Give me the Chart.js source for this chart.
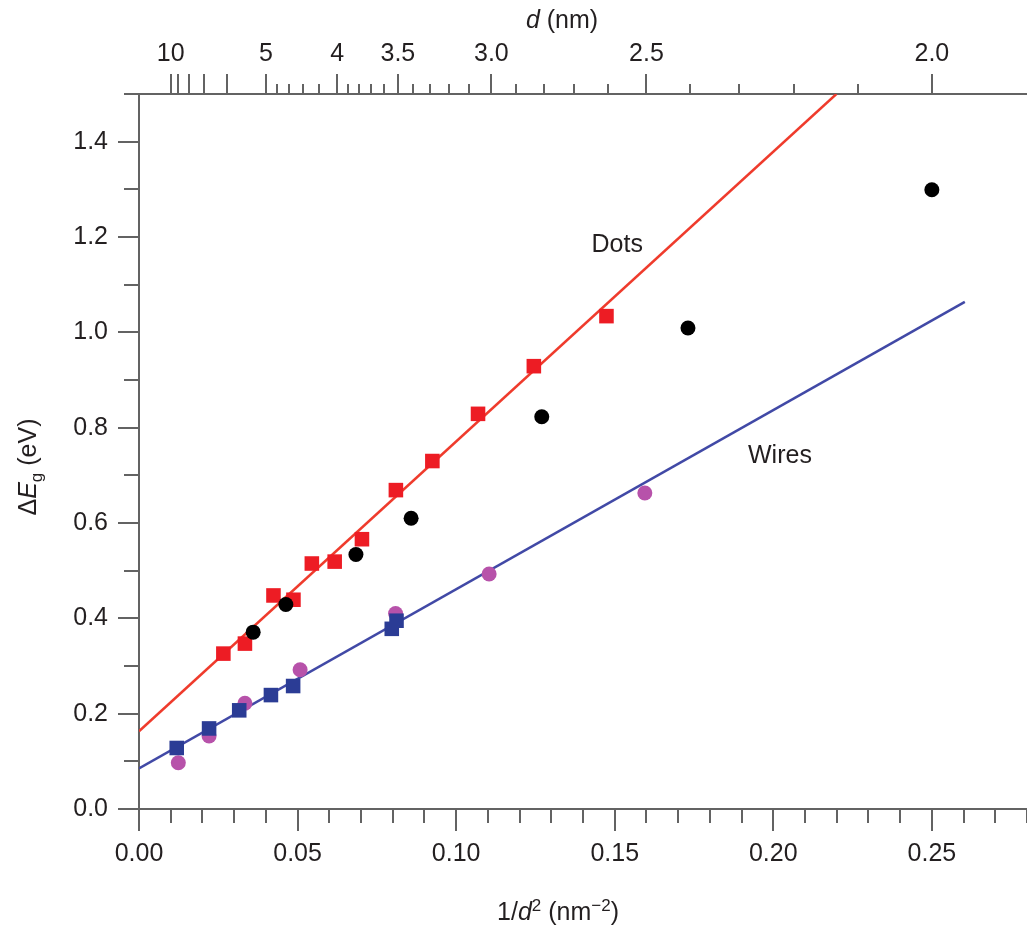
<!DOCTYPE html>
<html>
<head>
<meta charset="utf-8">
<script src="https://cdn.jsdelivr.net/npm/chart.js@4.4.1/dist/chart.umd.min.js"></script>
<style>
  html, body { margin: 0; padding: 0; background: #fff; }
  #wrap { width: 1027px; height: 929px; }
</style>
</head>
<body>
<div id="wrap"><canvas id="gapChart" width="1027" height="929"></canvas></div>
<script>
// measured values: 1/d^2 (nm^-2) vs band gap shift (eV)
const dotsSqX = [0.0266, 0.0334, 0.0424, 0.0487, 0.0545, 0.0617, 0.0703, 0.0810, 0.0925, 0.1069, 0.1245, 0.1474];
const dotsSqY = [0.326, 0.347, 0.448, 0.439, 0.515, 0.519, 0.566, 0.669, 0.730, 0.829, 0.929, 1.034];
const dotsCircX = [0.0360, 0.0463, 0.0684, 0.0858, 0.1270, 0.1731, 0.2500];
const dotsCircY = [0.371, 0.429, 0.534, 0.610, 0.823, 1.009, 1.299];
const wiresSqX = [0.0119, 0.0221, 0.0316, 0.0416, 0.0486, 0.0797, 0.0812];
const wiresSqY = [0.128, 0.169, 0.207, 0.239, 0.258, 0.378, 0.395];
const wiresCircX = [0.0124, 0.0221, 0.0334, 0.0508, 0.0809, 0.1104, 0.1595];
const wiresCircY = [0.097, 0.153, 0.222, 0.292, 0.410, 0.493, 0.663];

// fitted lines (end points)
const dotsFitX = [0, 0.2199];
const dotsFitY = [0.163, 1.5];
const wiresFitX = [0, 0.2604];
const wiresFitY = [0.085, 1.064];

// top axis: diameter d (nm)
const dLabeled = [10, 5, 4, 3.5, 3.0, 2.5, 2.0];
const dLabels = ['10', '5', '4', '3.5', '3.0', '2.5', '2.0'];
const dLongTicks = [10, 9, 8, 7, 6, 5, 4, 3.5, 3.0, 2.5, 2.0];
const dShortTicks = [4.8, 4.6, 4.4, 4.2, 3.9, 3.8, 3.7, 3.6, 3.4, 3.3, 3.2, 3.1,
                     2.9, 2.8, 2.7, 2.6, 2.4, 2.3, 2.2, 2.1];

const curveLabels = ['Dots', 'Wires'];
const curveLabelX = [0.1508, 0.2021];
const curveLabelY = [1.182, 0.741];

const FONT = "'Liberation Sans', Arial, sans-serif";
const TEXT = '#231f20';
const AXIS = '#636363';
const FS = 25;

function pts(xs, ys) {
    return xs.map((x, i) => ({ x: x, y: ys[i] }));
}

function drawRich(ctx, runs, cx, baseY, size, angle) {
    ctx.save();
    ctx.translate(cx, baseY);
    if (angle) ctx.rotate(angle);
    const parts = runs.map(r => {
        const s = (r.sup || r.sub) ? Math.round(size * 0.68) : size;
        const f = (r.it ? 'italic ' : '') + s + 'px ' + FONT;
        ctx.font = f;
        return { t: r.t, f: f, w: ctx.measureText(r.t).width, dy: r.sup ? -size * 0.36 : (r.sub ? size * 0.22 : 0) };
    });
    const total = parts.reduce((a, p) => a + p.w, 0);
    let x = -total / 2;
    ctx.textAlign = 'left';
    ctx.textBaseline = 'alphabetic';
    ctx.fillStyle = TEXT;
    parts.forEach(p => {
        ctx.font = p.f;
        ctx.fillText(p.t, x, p.dy);
        x += p.w;
    });
    ctx.restore();
}

// no extra edge padding, the plot runs to the right border of the canvas
function noPadH(s, h) { s.height = h; s.paddingLeft = 0; s.paddingRight = 0; }

// tick marks of different lengths + axis titles + curve names
const extrasPlugin = {
    id: 'extras',
    afterDraw(chart) {
        const ctx = chart.ctx;
        const xs = chart.scales.x, ys = chart.scales.y, x2 = chart.scales.x2;
        const area = chart.chartArea;
        ctx.save();
        ctx.strokeStyle = AXIS;
        ctx.lineWidth = 2;
        ctx.beginPath();
        xs.ticks.forEach(t => {
            const px = Math.round(xs.getPixelForValue(t.value));
            const major = Math.round(t.value * 100) % 5 === 0;
            ctx.moveTo(px, area.bottom);
            ctx.lineTo(px, area.bottom + (major ? 22 : 14));
        });
        ys.ticks.forEach(t => {
            const py = Math.round(ys.getPixelForValue(t.value));
            const major = Math.round(t.value * 10) % 2 === 0;
            ctx.moveTo(area.left, py);
            ctx.lineTo(area.left - (major ? 21 : 15), py);
        });
        dLongTicks.forEach(d => {
            const px = Math.round(x2.getPixelForValue(1 / (d * d)));
            ctx.moveTo(px, area.top);
            ctx.lineTo(px, area.top - 20);
        });
        dShortTicks.forEach(d => {
            const px = Math.round(x2.getPixelForValue(1 / (d * d)));
            ctx.moveTo(px, area.top);
            ctx.lineTo(px, area.top - 10);
        });
        ctx.stroke();
        ctx.restore();

        drawRich(ctx, [{ t: '1/' }, { t: 'd', it: true }, { t: '2', sup: true }, { t: ' (nm' }, { t: '\u22122', sup: true }, { t: ')' }], 558, 920, FS);
        drawRich(ctx, [{ t: 'd', it: true }, { t: ' (nm)' }], 562, 28, FS);
        drawRich(ctx, [{ t: '\u0394' }, { t: 'E', it: true }, { t: 'g', sub: true }, { t: ' (eV)' }], 36, 467, FS, -Math.PI / 2);

        ctx.save();
        ctx.font = FS + 'px ' + FONT;
        ctx.fillStyle = TEXT;
        ctx.textAlign = 'center';
        ctx.textBaseline = 'middle';
        curveLabels.forEach((lab, i) => {
            ctx.fillText(lab, xs.getPixelForValue(curveLabelX[i]), ys.getPixelForValue(curveLabelY[i]));
        });
        ctx.restore();
    }
};

document.addEventListener('DOMContentLoaded', function() {
    Chart.defaults.font.family = FONT;
    Chart.defaults.color = TEXT;

    const ctx = document.getElementById('gapChart').getContext('2d');
    new Chart(ctx, {
        type: 'scatter',
        data: {
            datasets: [
                {
                    label: 'Dots (circles)',
                    data: pts(dotsCircX, dotsCircY),
                    pointStyle: 'circle',
                    pointRadius: 7.5,
                    backgroundColor: '#000000',
                    borderColor: '#000000',
                    pointBorderWidth: 0
                },
                {
                    label: 'Dots (squares)',
                    data: pts(dotsSqX, dotsSqY),
                    pointStyle: 'rect',
                    pointRadius: 10.3,
                    backgroundColor: '#ed1c24',
                    borderColor: '#ed1c24',
                    pointBorderWidth: 0
                },
                {
                    label: 'Wires (squares)',
                    data: pts(wiresSqX, wiresSqY),
                    pointStyle: 'rect',
                    pointRadius: 10.3,
                    backgroundColor: '#2b3c95',
                    borderColor: '#2b3c95',
                    pointBorderWidth: 0
                },
                {
                    label: 'Wires (circles)',
                    data: pts(wiresCircX, wiresCircY),
                    pointStyle: 'circle',
                    pointRadius: 7.5,
                    backgroundColor: '#b752aa',
                    borderColor: '#b752aa',
                    pointBorderWidth: 0
                },
                {
                    label: 'Dots fit',
                    data: pts(dotsFitX, dotsFitY),
                    showLine: true,
                    pointRadius: 0,
                    borderColor: '#ef3b2c',
                    borderWidth: 2.5
                },
                {
                    label: 'Wires fit',
                    data: pts(wiresFitX, wiresFitY),
                    showLine: true,
                    pointRadius: 0,
                    borderColor: '#4149a6',
                    borderWidth: 2.5
                }
            ]
        },
        options: {
            responsive: false,
            animation: false,
            layout: { padding: 0, autoPadding: false },
            plugins: {
                legend: { display: false },
                tooltip: { enabled: false }
            },
            scales: {
                x: {
                    type: 'linear',
                    position: 'bottom',
                    min: 0,
                    max: 0.28,
                    afterFit: s => noPadH(s, 120),
                    border: { display: true, color: AXIS, width: 2 },
                    grid: { display: false, drawTicks: false },
                    ticks: {
                        stepSize: 0.01,
                        autoSkip: false,
                        maxRotation: 0,
                        padding: 30,
                        font: { size: FS },
                        callback: v => (Math.round(v * 100) % 5 === 0 ? v.toFixed(2) : '')
                    }
                },
                x2: {
                    type: 'linear',
                    position: 'top',
                    min: 0,
                    max: 0.28,
                    afterFit: s => noPadH(s, 94),
                    afterBuildTicks: s => { s.ticks = dLabeled.map(d => ({ value: 1 / (d * d) })); },
                    border: { display: true, color: AXIS, width: 2 },
                    grid: { display: false, drawTicks: false },
                    ticks: {
                        autoSkip: false,
                        maxRotation: 0,
                        padding: 25,
                        font: { size: FS },
                        callback: (v, i) => dLabels[i]
                    }
                },
                y: {
                    type: 'linear',
                    position: 'left',
                    min: 0,
                    max: 1.5,
                    afterFit: s => { s.width = 139; s.paddingTop = 0; s.paddingBottom = 0; },
                    border: { display: true, color: AXIS, width: 2 },
                    grid: { display: false, drawTicks: false },
                    ticks: {
                        stepSize: 0.1,
                        autoSkip: false,
                        padding: 31,
                        font: { size: FS },
                        callback: v => (Math.round(v * 10) % 2 === 0 && v < 1.45 ? v.toFixed(1) : '')
                    }
                }
            }
        },
        plugins: [extrasPlugin]
    });
});
</script>
</body>
</html>
